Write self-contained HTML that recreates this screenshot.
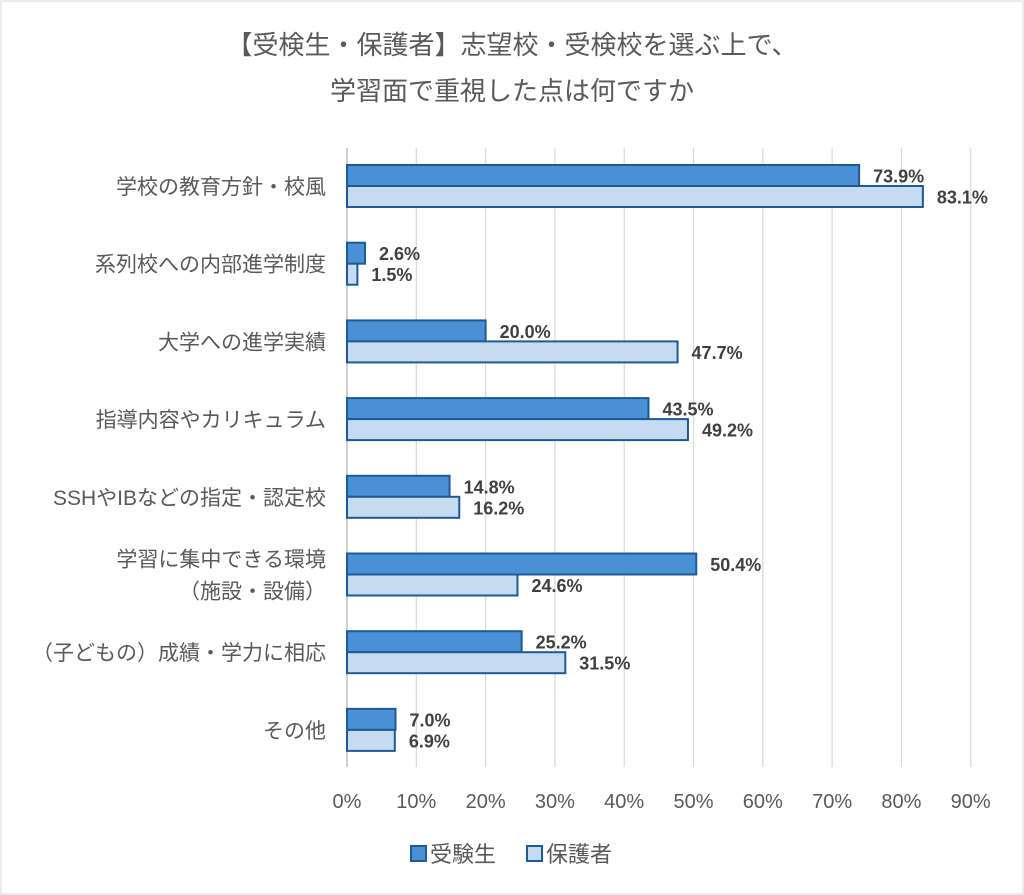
<!DOCTYPE html>
<html><head><meta charset="utf-8"><style>
body{margin:0;background:#fff}
svg{display:block;font-family:"Liberation Sans","Noto Sans CJK JP",sans-serif}
</style></head><body>
<svg id="c" width="1024" height="895">
<rect x="1" y="1" width="1022" height="893" fill="#fff" stroke="#d9d9d9"/>
<text x="512" y="54" text-anchor="middle" font-size="26" fill="#595959">【受検生・保護者】志望校・受検校を選ぶ上で、</text>
<text x="512" y="100" text-anchor="middle" font-size="26" fill="#595959">学習面で重視した点は何ですか</text>
<g id="grid"></g><g id="bars"></g><g id="cats"></g><g id="ticks"></g>
<g>
<rect x="411" y="846" width="15" height="15" fill="#4a90d6" stroke="#1f5a96" stroke-width="2"/>
<text x="430" y="862" font-size="22" fill="#595959">受験生</text>
<rect x="527" y="846" width="15" height="15" fill="#c5dcf0" stroke="#1f5a96" stroke-width="2"/>
<text x="546" y="862" font-size="22" fill="#595959">保護者</text>
</g>
</svg>
<script>
const categories=[["学校の教育方針・校風"],["系列校への内部進学制度"],["大学への進学実績"],["指導内容やカリキュラム"],["SSHやIBなどの指定・認定校"],["学習に集中できる環境","（施設・設備）"],["（子どもの）成績・学力に相応"],["その他"]];
const students=[73.9,2.6,20.0,43.5,14.8,50.4,25.2,7.0];
const parents=[83.1,1.5,47.7,49.2,16.2,24.6,31.5,6.9];
const tickValues=[0,10,20,30,40,50,60,70,80,90];
const NS="http://www.w3.org/2000/svg";
const x0=347,pxPer=6.93,top0=186,step=77.7,bh=21,plotTop=148,plotBot=767;
const xs=v=>x0+v*pxPer, yc=i=>top0+i*step;
function mk(t,a,p){const e=document.createElementNS(NS,t);for(const k in a)e.setAttribute(k,a[k]);document.getElementById(p).appendChild(e);return e;}
tickValues.forEach((v,i)=>{
 const l=mk('line',{x1:xs(v),x2:xs(v),y1:plotTop,y2:plotBot,stroke:v===0?'#bfbfbf':'#d9d9d9','stroke-width':v===0?1.5:1.2},'grid');
 
 
 const t=mk('text',{x:xs(v),y:808,'text-anchor':'middle','font-size':20,fill:'#595959'},'ticks');
 t.textContent=v+'%';
 
 
});
categories.forEach((c,i)=>{
 const y=yc(i);
 [[students[i],y-bh,'#4a90d6','bar-students'],[parents[i],y,'#c5dcf0','bar-parents']].forEach(([v,yy,f,n])=>{
  const r=mk('rect',{x:x0,y:yy,width:xs(v)-x0,height:bh,fill:f,stroke:'#1f5a96','stroke-width':2},'bars');
  
  
  const t=mk('text',{x:xs(v)+14,y:yy+bh/2+7,'font-size':18,'font-weight':'bold',fill:'#404040'},'bars');
  t.textContent=v.toFixed(1)+'%';
  
  
 });
 c.forEach((s,j)=>{
  const t=mk('text',{x:326,y:y+8+(j-(c.length-1)/2)*32,'text-anchor':'end','font-size':21,fill:'#595959'},'cats');
  t.textContent=s;
  
  
 });
});
</script>
</body></html>
